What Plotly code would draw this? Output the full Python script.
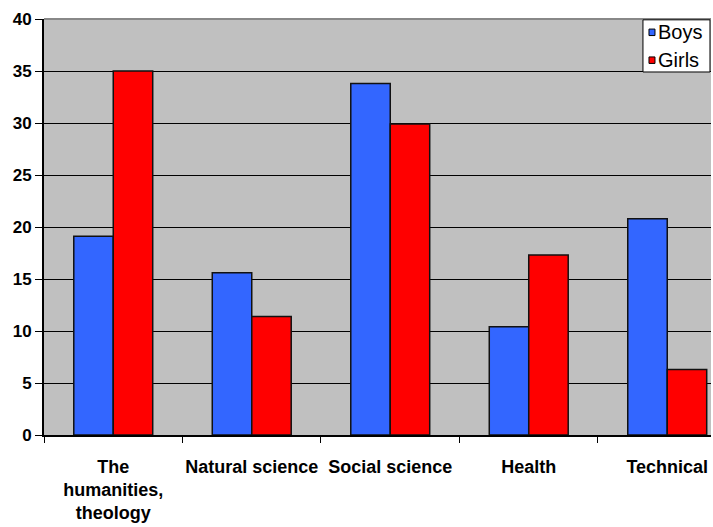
import plotly.graph_objects as go

categories = ["The<br>humanities,<br>theology", "Natural science", "Social science", "Health", "Technical"]
boys = [19.1, 15.6, 33.8, 10.4, 20.8]
girls = [35.0, 11.4, 29.9, 17.3, 6.3]
y_ticks = [0, 5, 10, 15, 20, 25, 30, 35, 40]
series_names = ["Boys", "Girls"]
series_colors = ["#3366FF", "#FF0000"]

fig = go.Figure()
for name, vals, col in zip(series_names, [boys, girls], series_colors):
    fig.add_trace(go.Bar(name=name, x=categories, y=vals,
                         marker=dict(color=col, line=dict(color="#111111", width=1.5))))

fig.update_layout(
    width=713, height=527,
    margin=dict(l=44, r=2, t=19, b=92, autoexpand=False),
    paper_bgcolor="white",
    plot_bgcolor="#C0C0C0",
    barmode="group",
    bargap=0.43,
    bargroupgap=0,
    font=dict(family="Liberation Sans, Arial, sans-serif", size=16, color="black"),
    showlegend=False,
)
# the last category runs past the right edge, as in the original (cropped) chart
fig.update_xaxes(
    automargin=False,
    range=[-0.5, 4.316],
    showline=True, linecolor="black", linewidth=2,
    ticks="outside", tickson="boundaries", ticklen=6, tickcolor="black",
    tickangle=0, ticklabelstandoff=14,
    tickfont=dict(family="Liberation Sans, Arial", size=18, color="black", weight="bold"),
)
fig.update_yaxes(
    automargin=False,
    range=[0, 40], tickvals=y_ticks,
    showline=True, linecolor="black", linewidth=2,
    ticks="outside", ticklen=7, tickcolor="black",
    gridcolor="black", gridwidth=1,
    tickfont=dict(family="Liberation Sans, Arial", size=17, color="black", weight="bold"),
    zeroline=False,
)
fig.add_shape(type="line", xref="paper", yref="paper", x0=0, x1=1, y0=1, y1=1,
              line=dict(color="#888888", width=2))

# legend box (custom, to match the small Excel-style legend)
fig.add_shape(type="rect", xref="paper", yref="paper", x0=0.898, x1=0.9985, y0=0.8726, y1=0.998,
              fillcolor="white", line=dict(color="black", width=1))
legend_y = [0.968, 0.901]
for name, col, ly in zip(series_names, series_colors, legend_y):
    fig.add_shape(type="rect", xref="paper", yref="paper",
                  x0=0.907, x1=0.916, y0=ly - 0.0078, y1=ly + 0.0078,
                  fillcolor=col, line=dict(color="black", width=1))
    fig.add_annotation(xref="paper", yref="paper", x=0.917, y=ly, text=name,
                       showarrow=False, xanchor="left", yanchor="middle",
                       font=dict(family="Liberation Sans, Arial", size=20, color="black"))
fig.write_html("out.html", config={"displayModeBar": False},
               post_script="document.body.style.margin='0';")
